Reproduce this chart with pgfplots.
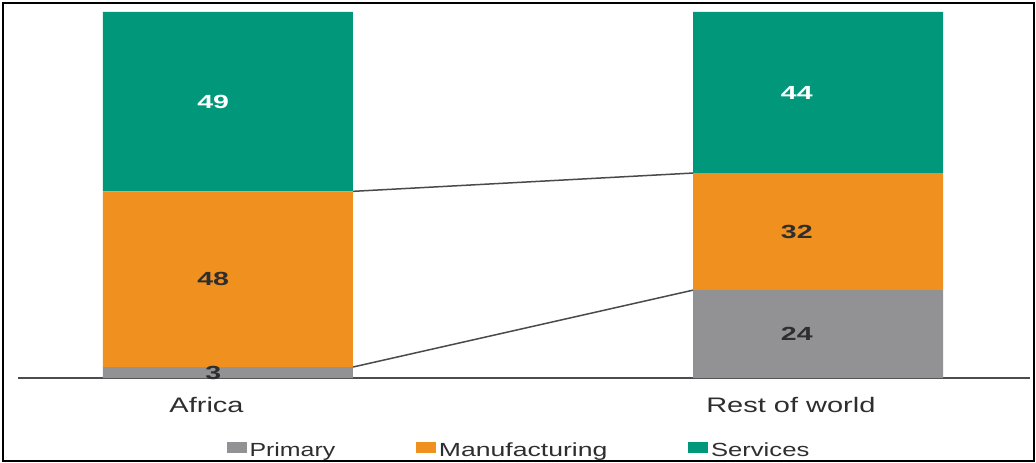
\documentclass[border=0pt]{standalone}
\usepackage{fontspec}
\setmainfont{Liberation Sans}
\usepackage{graphicx}
\usepackage{pgfplots}
\pgfplotsset{compat=1.18}
\definecolor{cprim}{HTML}{929295}
\definecolor{cmanu}{HTML}{F0901F}
\definecolor{cserv}{HTML}{00977A}
\definecolor{ctext}{HTML}{2E2E2E}
\definecolor{cline}{HTML}{4A4A4A}
\DeclareRobustCommand{\sx}[1]{\scalebox{1.38}[1]{#1}}
\DeclareRobustCommand{\sxa}[1]{\scalebox{1.31}[1]{#1}}
\DeclareRobustCommand{\sxb}[1]{\scalebox{1.40}[1]{#1}}
\DeclareRobustCommand{\sxc}[1]{\scalebox{1.35}[1]{#1}}
\DeclareRobustCommand{\sxv}[1]{\scalebox{1.5}[1]{#1}}
\tikzset{vlab/.style={font=\bfseries\fontsize{9.5bp}{11bp}\selectfont, text=ctext, anchor=center}}
\begin{document}
\begin{tikzpicture}
\useasboundingbox (0,0) rectangle (518bp,231.5bp);
\pgfplotsset{base/.style={scale only axis, width=506bp, height=183bp,
  at={(9bp,42.5bp)}, anchor=south west,
  xmin=-0.3559, xmax=1.3593, ymin=0, ymax=100, clip=false}}
\begin{axis}[base, ybar stacked, bar width=125bp,
  hide y axis, axis x line=bottom,
  x axis line style={-, draw=black!70, line width=0.75bp},
  xtick={-0.0364,0.954}, xticklabels={\sx{Africa},\sx{Rest of world}},
  major tick length=0pt,
  xticklabel style={anchor=base, inner sep=0pt, yshift=-17bp,
    font=\fontsize{10.5bp}{12bp}\selectfont, text=ctext},
  legend columns=3,
  legend style={at={(axis cs:-0.0017,-20.1)}, anchor=west, draw=none, fill=none,
    inner sep=0pt, outer sep=0pt,
    font=\fontsize{9.5bp}{11bp}\selectfont, text=ctext,
    /tikz/every even column/.append style={column sep=38.5bp},
    /tikz/every odd column/.append style={column sep=-0.7bp}},
  legend cell align=left,
  legend image code/.code={\fill[#1] (0bp,-0.5bp) rectangle (10bp,5bp);},
]
\addplot[fill=cprim, draw=none] coordinates {(0,3) (1,24)};
\addlegendentry{\sxa{Primary}}
\addplot[fill=cmanu, draw=none] coordinates {(0,48) (1,32)};
\addlegendentry{\sxb{Manufacturing}}
\addplot[fill=cserv, draw=none] coordinates {(0,49) (1,44)};
\addlegendentry{\sxc{Services}}
\end{axis}
\begin{axis}[base, hide axis]
\addplot[cline, line width=0.75bp, no marks] coordinates {(0.2119,51) (0.7881,56)};
\addplot[cline, line width=0.75bp, no marks] coordinates {(0.2119,3) (0.7881,24)};
\node[vlab, text=white] at (axis cs:-0.025,75.5) {\sxv{49}};
\node[vlab] at (axis cs:-0.025,27) {\sxv{48}};
\node[vlab] at (axis cs:-0.025,1.3) {\sxv{3}};
\node[vlab, text=white] at (axis cs:0.964,78) {\sxv{44}};
\node[vlab] at (axis cs:0.964,40) {\sxv{32}};
\node[vlab] at (axis cs:0.964,12) {\sxv{24}};
\end{axis}
\draw[line width=1bp] (1.5bp,1bp) rectangle (517bp,230bp);
\end{tikzpicture}
\end{document}
